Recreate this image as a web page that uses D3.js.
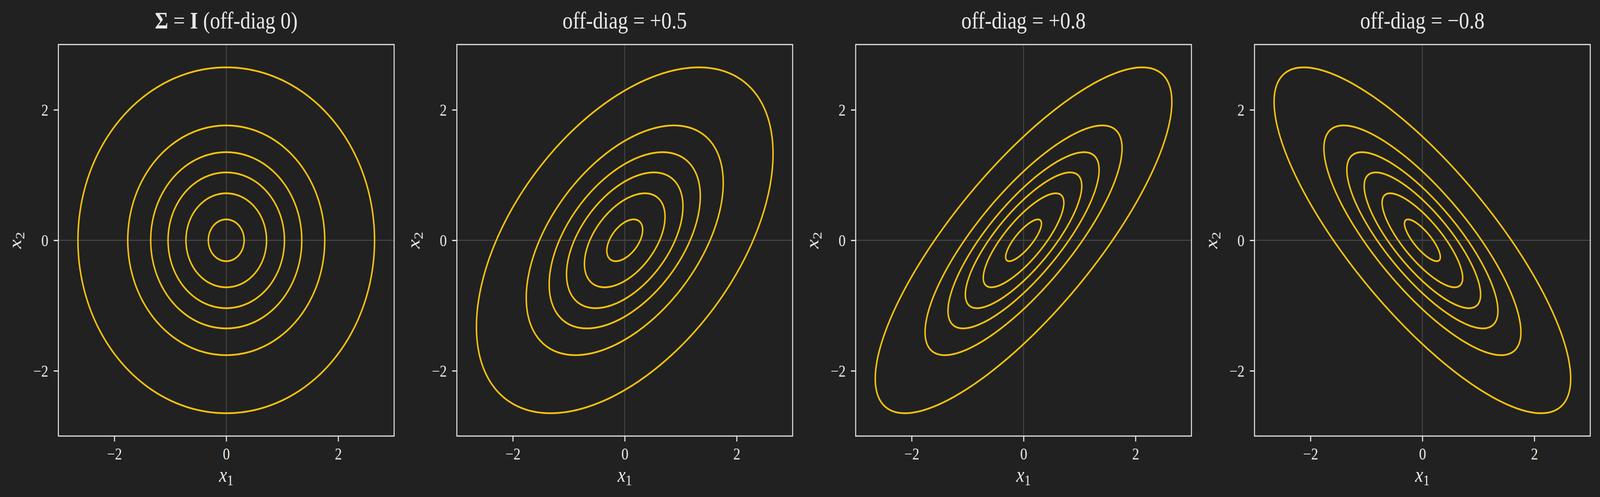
<!DOCTYPE html>
<html>
<head>
<meta charset="utf-8">
<script src="https://cdn.jsdelivr.net/npm/d3@7"></script>
<style>
  html, body { margin: 0; padding: 0; background: #212121; overflow: hidden; }
  #chart svg { display: block; width: 100vw; height: 100vh; }
  text { font-family: "Liberation Serif", "DejaVu Serif", serif; fill: #e8e8e8; }
</style>
</head>
<body>
<div id="chart"></div>
<script>
// covariance off-diagonal value per panel (diagonal is 1)
const offDiag = [0, 0.5, 0.8, -0.8];
const titles = ["off-diag 0", "off-diag = +0.5", "off-diag = +0.8", "off-diag = \u22120.8"];
// contour levels, as Mahalanobis radius
const levelRadii = [0.32, 0.72, 1.04, 1.35, 1.76, 2.65];
const tickValues = [-2, 0, 2];
const domain = [-3, 3];

const width = 4770;
const height = 1272;
const panelLeft = [174, 1362, 2551, 3740];
const panelTop = 114;
const panelW = 1001;
const panelH = 1002;
const lineColor = "#f4c20d";
const frameColor = "#e4e4e4";

const svg = d3
  .select("#chart")
  .append("svg")
  .attr("viewBox", `0 0 ${width} ${height}`)
  .attr("preserveAspectRatio", "none");

svg.append("rect").attr("width", width).attr("height", height).attr("fill", "#212121");

const x = d3.scaleLinear().domain(domain).range([0, panelW]);
const y = d3.scaleLinear().domain(domain).range([panelH, 0]);
const fmt = (d) => (d < 0 ? "\u2212" + Math.abs(d) : String(d));

// points on the ellipse x = d * L * (cos t, sin t), L = chol(Sigma)
const ellipse = (rho, d) =>
  d3.range(0, 360).map((i) => {
    const t = (i / 360) * 2 * Math.PI;
    return [d * Math.cos(t), d * (rho * Math.cos(t) + Math.sqrt(1 - rho * rho) * Math.sin(t))];
  });

const line = d3
  .line()
  .x((p) => x(p[0]))
  .y((p) => y(p[1]))
  .curve(d3.curveLinearClosed);

offDiag.forEach((rho, i) => {
  const g = svg.append("g").attr("transform", `translate(${panelLeft[i]}, ${panelTop})`);

  // zero lines
  g.append("line")
    .attr("x1", x(0)).attr("x2", x(0)).attr("y1", 0).attr("y2", panelH)
    .attr("stroke", "#4a4a4a").attr("stroke-width", 2.3);
  g.append("line")
    .attr("x1", 0).attr("x2", panelW).attr("y1", y(0)).attr("y2", y(0))
    .attr("stroke", "#4a4a4a").attr("stroke-width", 2.3);

  // contours
  g.selectAll("path.contour")
    .data(levelRadii)
    .enter()
    .append("path")
    .attr("class", "contour")
    .attr("d", (d) => line(ellipse(rho, d)))
    .attr("fill", "none")
    .attr("stroke", lineColor)
    .attr("stroke-width", 4.5);

  // axes
  const xAxis = g.append("g")
    .attr("transform", `translate(0, ${panelH})`)
    .call(d3.axisBottom(x).tickValues(tickValues).tickSize(14).tickPadding(16).tickFormat(fmt));
  const yAxis = g.append("g")
    .call(d3.axisLeft(y).tickValues(tickValues).tickSize(14).tickPadding(16).tickFormat(fmt));
  [xAxis, yAxis].forEach((a) => {
    a.select(".domain").remove();
    a.selectAll(".tick line").attr("stroke", frameColor).attr("stroke-width", 3.2);
    a.selectAll(".tick text")
      .attr("fill", "#e8e8e8")
      .style("font-family", '"Liberation Serif", serif')
      .style("font-size", "42px");
  });
  xAxis.selectAll(".tick text").attr("dy", "0.72em");
  yAxis.selectAll(".tick text").attr("dy", "0.34em");

  // frame
  g.append("rect")
    .attr("width", panelW).attr("height", panelH)
    .attr("fill", "none").attr("stroke", frameColor).attr("stroke-width", 3);

  // title
  const title = g.append("text")
    .attr("x", panelW / 2).attr("y", 73 - panelTop)
    .attr("text-anchor", "middle")
    .style("font-size", "61px");
  if (i === 0) {
    title.append("tspan").attr("font-weight", "bold").text("\u03A3");
    title.append("tspan").text(" = ");
    title.append("tspan").attr("font-weight", "bold").text("I");
    title.append("tspan").text(" (" + titles[i] + ")");
  } else {
    title.text(titles[i]);
  }

  // x label
  const xl = g.append("text")
    .attr("x", panelW / 2).attr("y", 1233 - panelTop)
    .attr("text-anchor", "middle")
    .style("font-size", "54px");
  xl.append("tspan").attr("font-style", "italic").text("x");
  xl.append("tspan").attr("dy", 9).style("font-size", "38px").text("1");

  // y label
  const yl = g.append("text")
    .attr("transform", `translate(-111, ${panelH / 2}) rotate(-90)`)
    .attr("text-anchor", "middle")
    .style("font-size", "54px");
  yl.append("tspan").attr("font-style", "italic").text("x");
  yl.append("tspan").attr("dy", 9).style("font-size", "38px").text("2");
});
</script>
</body>
</html>
